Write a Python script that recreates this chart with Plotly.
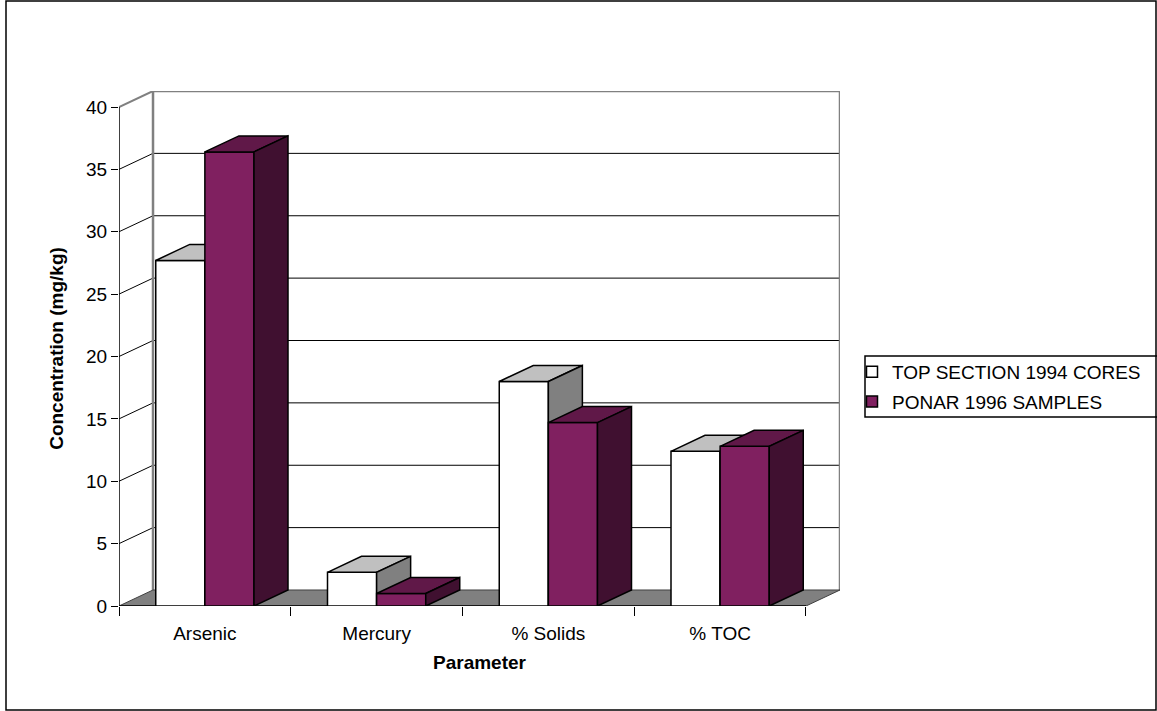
import plotly.graph_objects as go

# --- data -------------------------------------------------------------
categories = ["Arsenic", "Mercury", "% Solids", "% TOC"]
series_names = ["TOP SECTION 1994 CORES", "PONAR 1996 SAMPLES"]
top_section_1994 = [27.7, 2.7, 18.0, 12.4]
ponar_1996 = [36.4, 1.0, 14.7, 12.8]
y_ticks = [0, 5, 10, 15, 20, 25, 30, 35, 40]

# --- style ------------------------------------------------------------
FONT = "Arial, Liberation Sans, sans-serif"
FS = 19
BAR_W = 0.286          # width of one bar in category units
DX, DY = 0.198, 1.283  # 3-D depth offset (x in category units, y in data units)
Y_MAX = 40
X0, X1 = -0.5, len(categories) - 0.5

faces = {
    0: dict(front="#FFFFFF", top="#C0C0C0", side="#808080"),
    1: dict(front="#802060", top="#601848", side="#401030"),
}
legend_colors = ["#FFFFFF", "#802060"]

fig = go.Figure()


def poly(xs, ys, fill, line_color="black", width=1.5):
    fig.add_trace(go.Scatter(
        x=xs + [xs[0]], y=ys + [ys[0]], mode="lines", fill="toself",
        fillcolor=fill, line=dict(color=line_color, width=width),
        hoverinfo="skip", showlegend=False))


def seg(xs, ys, color="black", width=1):
    fig.add_trace(go.Scatter(
        x=xs, y=ys, mode="lines", line=dict(color=color, width=width),
        hoverinfo="skip", showlegend=False))


# walls: back-wall gridlines and the slanted side-wall lines
for v in y_ticks[1:-1]:
    seg([X0 + DX, X1 + DX], [v + DY, v + DY])
    seg([X0, X0 + DX], [v, v + DY])
wall_gray = "#808080"
seg([X0, X0 + DX], [Y_MAX, Y_MAX + DY], wall_gray, 2)
seg([X0 + DX, X1 + DX], [Y_MAX + DY, Y_MAX + DY], wall_gray, 2.5)
seg([X0 + DX, X0 + DX], [DY, Y_MAX + DY], wall_gray, 2.5)
seg([X1 + DX, X1 + DX], [DY, Y_MAX + DY], wall_gray, 2.5)

# floor
poly([X0, X1, X1 + DX, X0 + DX], [0, 0, DY, DY], "#808080", "#404040", 1)

# front value axis line and category axis line
seg([X0, X0], [0, Y_MAX], "black", 1.5)
seg([X0, X1], [0, 0], "black", 1.5)

# 3-D columns
for i in range(len(categories)):
    for s, vals in enumerate([top_section_1994, ponar_1996]):
        v = vals[i]
        xa = i - BAR_W + s * BAR_W
        xb = xa + BAR_W
        c = faces[s]
        poly([xa, xb, xb, xa], [0, 0, v, v], c["front"])
        poly([xa, xb, xb + DX, xa + DX], [v, v, v + DY, v + DY], c["top"])
        poly([xb, xb + DX, xb + DX, xb], [0, DY, v + DY, v], c["side"])

# legend entries
for s, name in enumerate(series_names):
    fig.add_trace(go.Scatter(
        x=[None], y=[None], mode="markers", name=name, legendgroup=str(s),
        marker=dict(symbol="square", size=11, color=legend_colors[s],
                    line=dict(color="black", width=1.5))))

W, H = 1157, 711
L, R, T, B = 119, 317, 91, 105
pw, ph = W - L - R, H - T - B


def px_x(p):
    return (p - L) / pw


def px_y(p):
    return (H - B - p) / ph


fig.update_layout(
    width=W, height=H,
    margin=dict(l=L, r=R, t=T, b=B, autoexpand=False),
    paper_bgcolor="white", plot_bgcolor="white",
    font=dict(family=FONT, size=FS, color="black"),
    showlegend=True,
    legend=dict(x=px_x(852), y=px_y(353), xanchor="left", yanchor="top",
                bgcolor="rgba(0,0,0,0)", borderwidth=0,
                font=dict(family=FONT, size=FS), tracegroupgap=2),
    xaxis=dict(
        range=[X0, X1 + DX], showgrid=False, zeroline=False, showline=False,
        tickmode="array", tickvals=list(range(len(categories))),
        ticktext=categories, ticks="outside", ticklen=10,
        tickcolor="rgba(0,0,0,0)",
        minor=dict(tickmode="array",
                   tickvals=[k - 0.5 for k in range(len(categories) + 1)],
                   ticks="outside", ticklen=9, tickcolor="black",
                   tickwidth=1, showgrid=False),
        title=dict(text="Parameter", font=dict(family=FONT, size=FS, weight="bold"),
                   standoff=12),
        fixedrange=True,
    ),
    yaxis=dict(
        range=[0, Y_MAX + DY], showgrid=False, zeroline=False, showline=False,
        tickmode="array", tickvals=y_ticks, ticks="outside", ticklen=7,
        tickcolor="black", tickwidth=1,
        title=dict(text="Concentration (mg/kg)",
                   font=dict(family=FONT, size=FS, weight="bold"), standoff=17),
        fixedrange=True,
    ),
    shapes=[
        # outer chart frame
        dict(type="rect", xref="paper", yref="paper",
             x0=px_x(6), x1=px_x(1156), y0=px_y(710), y1=px_y(1),
             line=dict(color="black", width=1.5), layer="below"),
        # legend frame
        dict(type="rect", xref="paper", yref="paper",
             x0=px_x(865), x1=px_x(1162), y0=px_y(417), y1=px_y(356),
             line=dict(color="black", width=1.5), layer="above"),
    ],
)

fig.write_html("out.html")
